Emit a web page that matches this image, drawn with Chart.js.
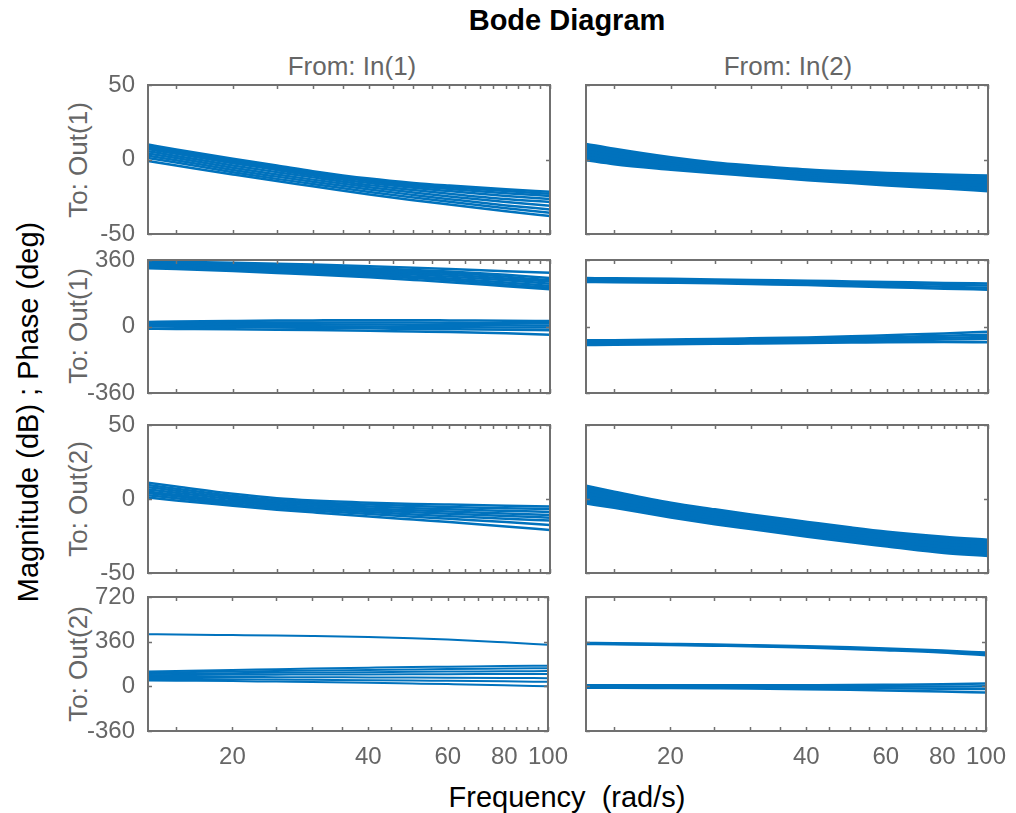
<!DOCTYPE html>
<html>
<head>
<meta charset="utf-8">
<script src="https://cdn.jsdelivr.net/npm/chart.js@4.4.0/dist/chart.umd.min.js"></script>
<style>
  body { margin: 0; background: #fff; }
  #wrap { position: relative; width: 1016px; height: 813px; overflow: hidden; font-family: "Liberation Sans", Arial, sans-serif; }
  #wrap canvas { position: absolute; }
  .lbl { position: absolute; white-space: nowrap; transform: translate(-50%, -50%); }
  .rot { transform: translate(-50%, -50%) rotate(-90deg); }
</style>
</head>
<body>
<div id="wrap">
  <div class="lbl" style="left:567px;top:20px;font-size:29px;font-weight:bold;color:#000">Bode Diagram</div>
  <div class="lbl" style="left:352px;top:66px;font-size:26px;color:#666">From: In(1)</div>
  <div class="lbl" style="left:788px;top:66px;font-size:26px;color:#666">From: In(2)</div>
  <div class="lbl rot" style="left:78px;top:160px;font-size:26px;color:#666">To: Out(1)</div>
  <div class="lbl rot" style="left:78px;top:326px;font-size:26px;color:#666">To: Out(1)</div>
  <div class="lbl rot" style="left:78px;top:499px;font-size:26px;color:#666">To: Out(2)</div>
  <div class="lbl rot" style="left:78px;top:664px;font-size:26px;color:#666">To: Out(2)</div>
  <div class="lbl rot" style="left:28px;top:412px;font-size:29px;color:#000">Magnitude (dB) ; Phase (deg)</div>
  <div class="lbl" style="left:567px;top:797px;font-size:29px;color:#000">Frequency &nbsp;(rad/s)</div>
</div>
<script>
// frequency grid (rad/s) and axis ticks
const freq = [13, 15, 20, 25, 30, 40, 50, 60, 80, 100];
const xLabels = [20, 40, 60, 80, 100];
const xMarks = [15, 20, 25, 30, 35, 40, 45, 50, 55, 60, 65, 70, 75, 80, 85, 90, 95, 100];
const magTicks = [-50, 0, 50];
const phaseTicks1 = [-360, 0, 360];
const phaseTicks2 = [-360, 0, 360, 720];

// To: Out(1), From: In(1) - magnitude (dB)
const mag11 = [
  [10, 6.7, 0.5, -4, -7.8, -12.8, -15.7, -17.5, -20, -21.7],
  [9, 5.8, -0.5, -5, -8.8, -13.8, -16.8, -18.6, -21.2, -23],
  [8, 4.8, -1.5, -6, -9.8, -14.6, -17.8, -19.8, -22.6, -24.5],
  [7, 3.8, -2.5, -7, -10.8, -15.8, -19, -21.2, -24.5, -26.5],
  [5.5, 2.4, -4, -8.5, -12, -17.2, -20.5, -23, -26.5, -28.5],
  [4, 1, -5.5, -10, -13.5, -18.6, -22.2, -24.8, -28.6, -31],
  [2.5, -0.5, -7, -11.5, -15, -20.2, -23.8, -26.6, -30.8, -33.5],
  [1, -2, -8.5, -13, -16.4, -21.8, -25.5, -28.4, -32.7, -35.8],
  [-1, -4, -10, -14.5, -17.9, -23.5, -27.3, -30.2, -34.7, -38]
];
// To: Out(1), From: In(1) - phase (deg)
const phase11 = [
  [352, 350, 345, 340, 335, 326, 318, 311, 299, 291],
  [350, 347, 340, 333, 327, 316, 306, 298, 280, 262],
  [345, 342, 335, 327, 320, 308, 298, 289, 270, 250],
  [340, 337, 329, 321, 314, 301, 290, 280, 260, 243],
  [334, 331, 322, 314, 306, 293, 281, 270, 250, 232],
  [328, 324, 315, 306, 298, 284, 271, 260, 238, 219],
  [321, 317, 307, 298, 290, 275, 262, 250, 227, 210],
  [315, 311, 300, 290, 282, 266, 252, 240, 218, 201],
  [25, 27, 30, 32, 33, 34, 34, 33, 31, 30],
  [18, 19, 21, 22, 22, 22, 21, 20, 18, 17],
  [12, 12, 13, 13, 12, 11, 10, 9, 7, 5],
  [5, 5, 4, 3, 2, 0, -2, -3, -5, -6],
  [0, -1, -3, -5, -7, -10, -13, -15, -18, -20],
  [-12, -13, -15, -17, -19, -23, -27, -30, -37, -45]
];
// To: Out(1), From: In(2)
const mag12 = [
  [10, 6.7, 1, -2.5, -4.5, -7.2, -8.6, -9.5, -10.6, -11.2],
  [8, 4.8, -0.5, -3.8, -5.8, -8.5, -10, -11, -12.3, -13.2],
  [6, 2.9, -2, -5, -7, -9.7, -11.4, -12.5, -14, -15.1],
  [4, 0.9, -3.4, -6.3, -8.2, -11, -12.8, -14, -15.8, -17],
  [2, -0.9, -4.9, -7.5, -9.4, -12.2, -14, -15.5, -17.4, -19],
  [0, -2.7, -6.3, -8.8, -10.5, -13.4, -15.3, -16.9, -19, -20.8]
];
const phase12 = [
  [262, 261, 258, 255, 252, 248, 244, 241, 236, 233],
  [255, 254, 251, 248, 245, 240, 236, 232, 226, 222],
  [248, 247, 244, 241, 238, 232, 227, 222, 215, 210],
  [241, 240, 237, 234, 230, 224, 218, 213, 205, 199],
  [-75, -74, -70, -67, -64, -59, -53, -47, -38, -28],
  [-82, -81, -78, -75, -72, -67, -62, -58, -50, -44],
  [-88, -87, -84, -81, -79, -74, -70, -67, -61, -57],
  [-94, -93, -90, -88, -86, -82, -79, -76, -71, -68],
  [-100, -99, -96, -94, -92, -89, -87, -85, -84, -85]
];
// To: Out(2), From: In(1)
const mag21 = [
  [11, 8.5, 3.5, 0.5, -1, -2.5, -3.3, -3.8, -4.5, -5],
  [9.5, 7, 2.2, -0.7, -2.2, -3.8, -4.8, -5.4, -6.2, -6.8],
  [8, 5.6, 1, -1.8, -3.3, -5.1, -6.2, -7, -8, -8.7],
  [6.5, 4.2, -0.2, -2.9, -4.4, -6.4, -7.6, -8.5, -9.8, -10.8],
  [5, 2.8, -1.4, -4, -5.5, -7.6, -9, -10, -11.5, -12.6],
  [4, 1.8, -2.4, -5, -6.6, -8.8, -10.4, -11.6, -13.4, -14.6],
  [2.5, 0.5, -3.5, -6.1, -7.7, -10.2, -12, -13.4, -15.6, -17.5],
  [1, -1, -4.5, -7.2, -9, -11.8, -13.9, -15.6, -18.5, -21]
];
const phase21 = [
  [420, 418, 413, 409, 405, 397, 388, 378, 355, 335],
  [120, 124, 132, 138, 143, 150, 155, 158, 163, 166],
  [110, 113, 119, 123, 127, 132, 136, 139, 143, 146],
  [100, 102, 106, 109, 111, 114, 117, 119, 121, 123],
  [90, 91, 93, 94, 95, 96, 97, 98, 99, 100],
  [75, 75, 75, 74, 73, 72, 71, 70, 68, 66],
  [60, 59, 57, 55, 53, 50, 47, 44, 40, 36],
  [48, 46, 42, 38, 35, 29, 23, 18, 9, 0]
];
// To: Out(2), From: In(2)
const mag22 = [
  [8.5, 4.5, -3, -7.5, -11, -16, -19.8, -22.6, -26, -28],
  [6.3, 2.5, -4.8, -9.3, -12.7, -17.8, -21.6, -24.4, -28, -30],
  [4.1, 0.5, -6.6, -11, -14.4, -19.6, -23.4, -26.2, -30, -32],
  [1.9, -1.5, -8.4, -12.8, -16.2, -21.4, -25.2, -28, -32, -34],
  [-0.3, -3.5, -10.2, -14.6, -18, -23.2, -27, -29.8, -34, -36],
  [-2.5, -5.5, -12, -16.5, -19.8, -25, -28.8, -31.6, -36, -38]
];
const phase22 = [
  [350, 348, 342, 337, 332, 323, 314, 305, 288, 272],
  [346, 344, 338, 332, 327, 317, 307, 298, 280, 262],
  [342, 340, 334, 328, 323, 312, 301, 291, 272, 250],
  [8, 8, 8, 8, 8, 9, 10, 12, 16, 22],
  [2, 2, 1, 0, -1, -2, -2, -2, -1, 0],
  [-5, -5, -6, -8, -9, -12, -14, -16, -19, -22],
  [-12, -12, -14, -16, -18, -23, -28, -33, -42, -50]
];

const lineColor = '#0072BD';
const textColor = '#666';
const fontFamily = '"Liberation Sans", Arial, sans-serif';

const colX = [148, 586];
const colW = 402;
const rows = [
  { y: 85, h: 149 },
  { y: 260, h: 133 },
  { y: 425, h: 148 },
  { y: 597, h: 134 }
];

const panels = [
  { row: 0, col: 0, lines: mag11, ticks: magTicks, lw: 2.5 },
  { row: 0, col: 1, lines: mag12, ticks: magTicks, lw: 4 },
  { row: 1, col: 0, lines: phase11, ticks: phaseTicks1, lw: 2.5 },
  { row: 1, col: 1, lines: phase12, ticks: phaseTicks1, lw: 2.5 },
  { row: 2, col: 0, lines: mag21, ticks: magTicks, lw: 2.5 },
  { row: 2, col: 1, lines: mag22, ticks: magTicks, lw: 4 },
  { row: 3, col: 0, lines: phase21, ticks: phaseTicks2, lw: 2 },
  { row: 3, col: 1, lines: phase22, ticks: phaseTicks2, lw: 2.5 }
];

// axes box and inward tick marks
const boxPlugin = {
  id: 'box',
  afterDatasetsDraw(chart) {
    const { ctx, chartArea: a } = chart;
    const xs = chart.scales.x, ys = chart.scales.y;
    ctx.save();
    ctx.strokeStyle = '#707070';
    ctx.lineWidth = 1.5;
    ctx.beginPath();
    xMarks.forEach(v => {
      const px = Math.round(xs.getPixelForValue(v)) + 0.5;
      ctx.moveTo(px, a.bottom); ctx.lineTo(px, a.bottom - 4);
      ctx.moveTo(px, a.top); ctx.lineTo(px, a.top + 4);
    });
    ys.ticks.forEach(t => {
      const py = Math.round(ys.getPixelForValue(t.value)) + 0.5;
      ctx.moveTo(a.left, py); ctx.lineTo(a.left + 4, py);
      ctx.moveTo(a.right, py); ctx.lineTo(a.right - 4, py);
    });
    ctx.stroke();
    ctx.lineWidth = 2;
    ctx.strokeRect(a.left, a.top, a.width, a.height);
    ctx.restore();
  }
};

const wrap = document.getElementById('wrap');

panels.forEach(p => {
  const bottomRow = p.row === 3;
  const padL = p.col === 0 ? 110 : 10;
  const padT = 32, padR = 30, padB = bottomRow ? 50 : 32;
  const r = rows[p.row];
  const canvas = document.createElement('canvas');
  canvas.width = padL + colW + padR;
  canvas.height = padT + r.h + padB;
  canvas.style.left = (colX[p.col] - padL) + 'px';
  canvas.style.top = (r.y - padT) + 'px';
  wrap.appendChild(canvas);

  new Chart(canvas, {
    type: 'line',
    data: {
      datasets: p.lines.map(vals => ({
        data: vals.map((v, i) => ({ x: freq[i], y: v })),
        borderColor: lineColor,
        borderWidth: p.lw,
        pointRadius: 0,
        cubicInterpolationMode: 'monotone',
        fill: false
      }))
    },
    options: {
      responsive: false,
      animation: false,
      devicePixelRatio: 1,
      layout: { padding: { left: 0, top: padT, right: padR, bottom: bottomRow ? 0 : padB } },
      plugins: { legend: { display: false }, tooltip: { enabled: false } },
      scales: {
        x: {
          type: 'logarithmic',
          min: 13,
          max: 100,
          afterBuildTicks: axis => { axis.ticks = xLabels.map(v => ({ value: v })); },
          afterFit: axis => { axis.height = bottomRow ? padB : 0; },
          grid: { display: false, drawTicks: false },
          border: { display: false },
          ticks: {
            display: bottomRow,
            autoSkip: false,
            maxRotation: 0,
            padding: 12,
            color: textColor,
            font: { family: fontFamily, size: 24 },
            callback: v => String(v)
          }
        },
        y: {
          min: p.ticks[0],
          max: p.ticks[p.ticks.length - 1],
          afterBuildTicks: axis => { axis.ticks = p.ticks.map(v => ({ value: v })); },
          afterFit: axis => { axis.width = padL; },
          grid: { display: false, drawTicks: false },
          border: { display: false },
          ticks: {
            display: p.col === 0,
            padding: 13,
            color: textColor,
            font: { family: fontFamily, size: 24 },
            callback: v => String(v)
          }
        }
      }
    },
    plugins: [boxPlugin]
  });
});
</script>
</body>
</html>
